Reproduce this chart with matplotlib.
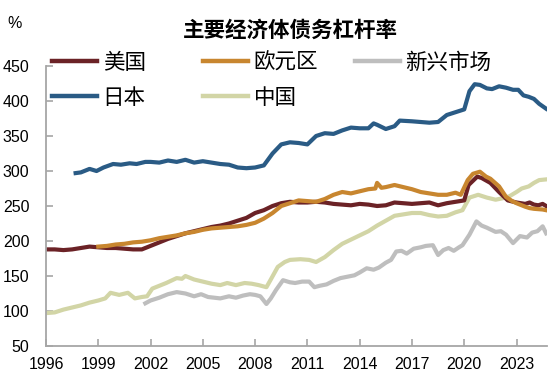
import matplotlib
matplotlib.use("Agg")
import matplotlib.pyplot as plt
from matplotlib.lines import Line2D

# ---------------- data ----------------
us_x = [1996.0, 1996.5, 1997.0, 1997.5, 1998.0, 1998.5, 1999.0, 1999.5, 2000.0, 2000.5, 2001.0, 2001.5,
        2002.0, 2002.5, 2003.0, 2003.5, 2004.0, 2004.5, 2005.0, 2005.5, 2006.0, 2006.5, 2007.0, 2007.5,
        2008.0, 2008.5, 2009.0, 2009.5, 2010.0, 2010.5, 2011.0, 2011.5, 2012.0, 2012.5, 2013.0, 2013.5,
        2014.0, 2014.5, 2015.0, 2015.5, 2016.0, 2016.5, 2017.0, 2017.5, 2018.0, 2018.5, 2019.0, 2019.5,
        2020.0, 2020.25, 2020.75, 2021.0, 2021.5, 2022.0, 2022.5, 2023.0, 2023.5, 2023.75, 2024.0,
        2024.25, 2024.5, 2024.7]
us_y = [188, 188, 187, 188, 190, 192, 191, 190, 190, 189, 188, 188,
        193, 198, 203, 207, 211, 214, 217, 220, 222, 225, 229, 233,
        240, 244, 250, 254, 256, 255, 255, 256, 255, 253, 252, 251,
        253, 252, 250, 251, 255, 254, 253, 254, 255, 251, 254, 256,
        258, 280, 292, 290, 283, 270, 258, 255, 253, 255, 252,
        251, 253, 250]

eu_x = [1999.0, 1999.5, 2000.0, 2000.5, 2001.0, 2001.5, 2002.0, 2002.5, 2003.0, 2003.5, 2004.0, 2004.5,
        2005.0, 2005.5, 2006.0, 2006.5, 2007.0, 2007.5, 2008.0, 2008.5, 2009.0, 2009.5, 2010.0, 2010.5,
        2011.0, 2011.5, 2012.0, 2012.5, 2013.0, 2013.5, 2014.0, 2014.5, 2014.9, 2015.0, 2015.25, 2015.5,
        2016.0, 2016.5, 2017.0, 2017.5, 2018.0, 2018.5, 2019.0, 2019.5, 2019.8, 2020.2, 2020.5, 2020.9,
        2021.25, 2021.5, 2022.0, 2022.4, 2022.75, 2023.0, 2023.5, 2023.75, 2024.0, 2024.5, 2024.7]
eu_y = [192, 193, 195, 196, 198, 199, 201, 204, 206, 208, 211, 213,
        216, 218, 219, 220, 221, 223, 226, 232, 240, 250, 254, 258,
        257, 256, 260, 266, 270, 268, 271, 274, 275, 283, 276, 277,
        280, 277, 274, 270, 268, 266, 266, 269, 266, 287, 296, 299,
        292, 289, 278, 263, 257, 254, 249, 247, 246, 245, 244]

jp_x = [1997.7, 1998.0, 1998.5, 1998.9, 1999.3, 1999.85, 2000.3, 2000.8, 2001.2, 2001.7, 2002.0, 2002.5,
        2003.0, 2003.5, 2004.0, 2004.5, 2005.0, 2005.5, 2006.0, 2006.5, 2007.0, 2007.5, 2008.0, 2008.5,
        2009.0, 2009.5, 2010.0, 2010.5, 2011.0, 2011.5, 2012.0, 2012.5, 2013.0, 2013.5, 2014.0, 2014.5,
        2014.8, 2015.0, 2015.5, 2016.0, 2016.3, 2017.0, 2017.5, 2018.0, 2018.5, 2019.0, 2019.5, 2020.0,
        2020.3, 2020.6, 2020.9, 2021.3, 2021.6, 2022.0, 2022.4, 2022.8, 2023.1, 2023.4, 2023.7, 2024.0,
        2024.3, 2024.7]
jp_y = [297, 298, 303, 300, 305, 310, 309, 311, 310, 313, 313, 312,
        315, 313, 316, 312, 314, 312, 310, 309, 305, 304, 305, 308,
        325, 338, 341, 340, 338, 350, 354, 353, 358, 362, 361, 361,
        368, 366, 360, 364, 372, 371, 370, 369, 370, 380, 384, 388,
        414, 424, 423, 418, 417, 421, 419, 416, 416, 408, 406, 403,
        396, 389]

cn_x = [1996.0, 1996.5, 1997.0, 1997.5, 1998.0, 1998.5, 1999.0, 1999.4, 1999.7, 2000.2, 2000.7, 2001.1,
        2001.5, 2001.8, 2002.1, 2002.5, 2002.9, 2003.5, 2003.8, 2004.0, 2004.5, 2005.0, 2005.5, 2006.0,
        2006.4, 2006.9, 2007.4, 2007.8, 2008.2, 2008.65, 2008.9, 2009.3, 2009.7, 2010.0, 2010.6, 2011.1,
        2011.5, 2012.0, 2012.5, 2013.0, 2013.5, 2014.0, 2014.5, 2015.0, 2015.5, 2016.0, 2016.5, 2017.0,
        2017.5, 2018.0, 2018.5, 2019.0, 2019.5, 2019.9, 2020.3, 2020.8, 2021.3, 2021.8, 2022.2, 2022.6,
        2023.0, 2023.3, 2023.7, 2024.0, 2024.3, 2024.7]
cn_y = [97, 98, 102, 105, 108, 112, 115, 118, 126, 123, 126, 118,
        120, 121, 132, 136, 140, 147, 146, 150, 145, 142, 139, 137,
        140, 137, 140, 139, 137, 134, 145, 163, 170, 173, 174, 173,
        170, 177, 187, 196, 202, 208, 214, 222, 229, 236, 238, 240,
        240, 237, 235, 236, 241, 244, 262, 266, 262, 259, 261, 264,
        270, 275, 278, 283, 287, 288]

em_x = [2001.7, 2002.0, 2002.5, 2003.0, 2003.5, 2004.0, 2004.5, 2004.9, 2005.3, 2006.0, 2006.5, 2006.9,
        2007.3, 2007.7, 2008.0, 2008.3, 2008.65, 2008.9, 2009.2, 2009.6, 2010.0, 2010.3, 2010.7, 2011.1,
        2011.4, 2011.7, 2012.1, 2012.5, 2012.9, 2013.3, 2013.7, 2014.0, 2014.4, 2014.8, 2015.1, 2015.5,
        2015.8, 2016.1, 2016.4, 2016.7, 2017.1, 2017.5, 2017.8, 2018.2, 2018.5, 2018.8, 2019.1, 2019.4,
        2019.7, 2019.9, 2020.3, 2020.7, 2021.0, 2021.3, 2021.8, 2022.1, 2022.4, 2022.8, 2023.2, 2023.6,
        2023.9, 2024.2, 2024.5, 2024.7]
em_y = [111, 115, 119, 124, 127, 125, 121, 124, 120, 118, 121, 119,
        122, 124, 123, 121, 110, 118, 130, 144, 141, 140, 142, 142,
        134, 136, 138, 143, 147, 149, 151, 155, 161, 159, 162, 169,
        173, 185, 186, 182, 189, 191, 193, 194, 180, 187, 190, 186,
        191, 194, 209, 228, 222, 219, 213, 214, 209, 197, 207, 205,
        212, 214, 221, 211]

series_labels = ["美国", "欧元区", "新兴市场", "日本", "中国"]
x_ticks = [1996, 1999, 2002, 2005, 2008, 2011, 2014, 2017, 2020, 2023]
y_ticks = [50, 100, 150, 200, 250, 300, 350, 400, 450]
title = "主要经济体债务杠杆率"

colors = {"美国": "#6B2226", "欧元区": "#C8862F", "新兴市场": "#BEBEBE",
          "日本": "#2A5B85", "中国": "#D2D5A6"}

plt.rcParams['font.family'] = ['Noto Sans CJK SC', 'DejaVu Sans']

fig = plt.figure(figsize=(5.54, 3.81), dpi=100)
W, H = 554, 381
ax = fig.add_axes([46 / W, 1 - 346 / H, (547 - 46) / W, (346 - 66) / H])

lw = 3.0
lines = {}
lines["新兴市场"], = ax.plot(em_x, em_y, color=colors["新兴市场"], lw=lw, solid_joinstyle='round')
lines["中国"], = ax.plot(cn_x, cn_y, color=colors["中国"], lw=lw, solid_joinstyle='round')
lines["日本"], = ax.plot(jp_x, jp_y, color=colors["日本"], lw=lw, solid_joinstyle='round')
lines["美国"], = ax.plot(us_x, us_y, color=colors["美国"], lw=lw, solid_joinstyle='round')
lines["欧元区"], = ax.plot(eu_x, eu_y, color=colors["欧元区"], lw=lw, solid_joinstyle='round')

ax.set_xlim(1996, 2024.75)
ax.set_ylim(50, 450)
ax.set_xticks(x_ticks)
ax.set_yticks(y_ticks)
for s in ["top", "right"]:
    ax.spines[s].set_visible(False)
for s in ["left", "bottom"]:
    ax.spines[s].set_color("#A6A6A6")
    ax.spines[s].set_linewidth(1.3)
ax.tick_params(axis='both', direction='in', color="#A6A6A6", length=5, width=1.2,
               labelsize=11.5, labelcolor="#000000")
ax.tick_params(axis='y', pad=12)
ax.tick_params(axis='x', pad=8)
for lab in ax.get_xticklabels() + ax.get_yticklabels():
    lab.set_family(['Liberation Sans', 'DejaVu Sans'])

fig.text(290 / W, 1 - 30 / H, title, ha='center', va='center', fontsize=15.5, fontweight='bold')
fig.text(15 / W, 1 - 24 / H, "%", ha='center', va='center', fontsize=11.5,
         family=['Liberation Sans', 'DejaVu Sans'])

# legends: three columns
cols = [(52, ["美国", "日本"]), (203, ["欧元区", "中国"]), (355, ["新兴市场"])]
for xpx, labs in cols:
    handles = [Line2D([], [], color=colors[l], lw=3.2) for l in labs]
    leg = fig.legend(handles, labs, loc='upper left', bbox_to_anchor=(xpx / W, 1 - 52 / H),
                     frameon=False, borderpad=0, borderaxespad=0, handlelength=2.1,
                     handletextpad=0.25, labelspacing=0.6, fontsize=15.5)

fig.savefig("out.png", dpi=100)
